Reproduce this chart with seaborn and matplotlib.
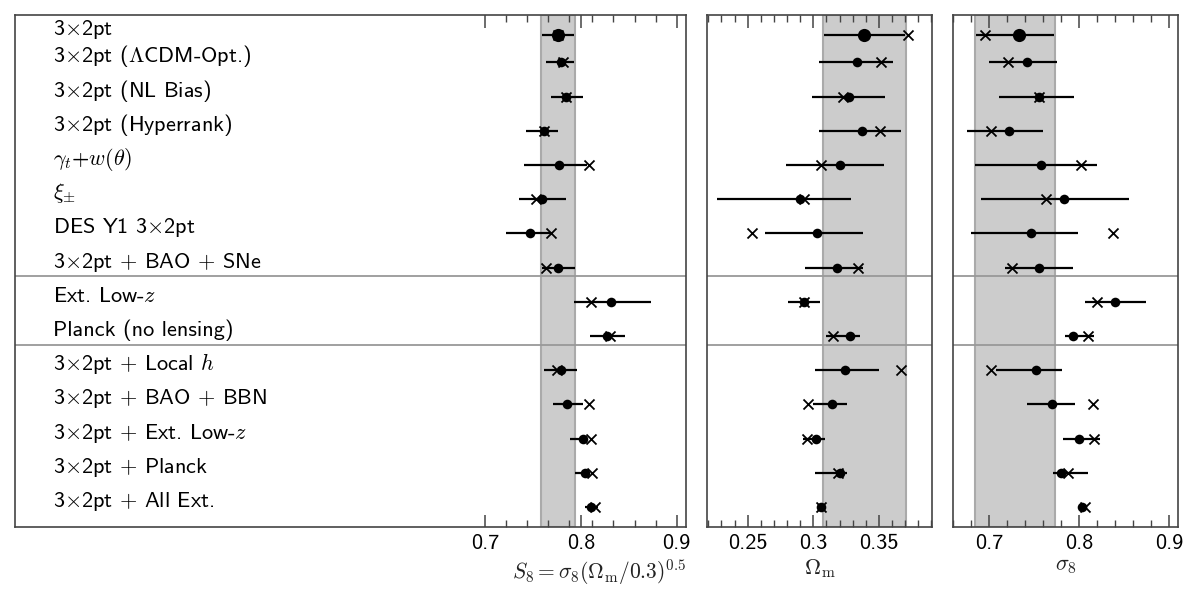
import numpy as np
import pandas as pd
import matplotlib
matplotlib.use("Agg")
import matplotlib.pyplot as plt
import seaborn as sns
from matplotlib.ticker import MultipleLocator, FixedLocator

# ---------------- data ----------------
labels = [
    r"3$\times$2pt",
    r"3$\times$2pt ($\Lambda$CDM-Opt.)",
    r"3$\times$2pt (NL Bias)",
    r"3$\times$2pt (Hyperrank)",
    r"$\gamma_t$+$w(\theta)$",
    r"$\xi_{\pm}$",
    r"DES Y1 3$\times$2pt",
    r"3$\times$2pt $+$ BAO $+$ SNe",
    r"Ext. Low-$z$",
    r"Planck (no lensing)",
    r"3$\times$2pt $+$ Local $h$",
    r"3$\times$2pt $+$ BAO $+$ BBN",
    r"3$\times$2pt $+$ Ext. Low-$z$",
    r"3$\times$2pt $+$ Planck",
    r"3$\times$2pt $+$ All Ext.",
]

s8_mean = [0.776, 0.779, 0.784, 0.762, 0.777, 0.759, 0.747, 0.776, 0.831, 0.827, 0.779, 0.786, 0.802, 0.804, 0.811]
s8_lo   = [0.759, 0.764, 0.769, 0.743, 0.741, 0.736, 0.722, 0.759, 0.793, 0.810, 0.762, 0.771, 0.789, 0.794, 0.804]
s8_hi   = [0.793, 0.793, 0.802, 0.776, 0.806, 0.784, 0.769, 0.794, 0.873, 0.846, 0.796, 0.802, 0.806, 0.809, 0.818]
s8_alt  = [0.776, 0.781, 0.784, 0.762, 0.809, 0.753, 0.769, 0.764, 0.811, 0.830, 0.775, 0.808, 0.811, 0.812, 0.815]

om_mean = [0.339, 0.333, 0.327, 0.337, 0.320, 0.290, 0.303, 0.318, 0.293, 0.328, 0.324, 0.314, 0.302, 0.320, 0.306]
om_lo   = [0.308, 0.304, 0.299, 0.304, 0.279, 0.227, 0.263, 0.294, 0.281, 0.310, 0.301, 0.300, 0.292, 0.301, 0.303]
om_hi   = [0.370, 0.361, 0.355, 0.367, 0.354, 0.329, 0.338, 0.338, 0.305, 0.336, 0.350, 0.326, 0.309, 0.326, 0.310]
om_alt  = [0.3725, 0.352, 0.323, 0.351, 0.306, 0.293, 0.253, 0.334, 0.293, 0.315, 0.367, 0.296, 0.295, 0.319, 0.306]

sig8_mean = [0.733, 0.742, 0.755, 0.722, 0.758, 0.783, 0.747, 0.756, 0.840, 0.793, 0.752, 0.770, 0.800, 0.780, 0.803]
sig8_lo   = [0.685, 0.700, 0.711, 0.675, 0.684, 0.691, 0.680, 0.718, 0.807, 0.784, 0.708, 0.742, 0.782, 0.771, 0.799]
sig8_hi   = [0.772, 0.776, 0.794, 0.760, 0.820, 0.856, 0.799, 0.793, 0.874, 0.817, 0.781, 0.796, 0.823, 0.810, 0.809]
sig8_alt  = [0.696, 0.721, 0.755, 0.702, 0.802, 0.763, 0.838, 0.726, 0.820, 0.810, 0.702, 0.815, 0.817, 0.788, 0.807]

bands = {"s8": (0.7583, 0.7938), "om": (0.3076, 0.3704), "sig8": (0.684, 0.7732)}

# ---------------- style ----------------
sns.set_theme(style="ticks")
plt.rcParams["font.family"] = ["cmss10", "DejaVu Sans"]
plt.rcParams["mathtext.fontset"] = "cm"
plt.rcParams["axes.unicode_minus"] = False
plt.rcParams["axes.formatter.use_mathtext"] = True

ypos = np.arange(len(labels), dtype=float)
ypos[0] = 0.2
seps = [7.25, 9.25]

df = pd.DataFrame({
    "label": labels, "y": ypos,
    "s8": s8_mean, "s8_lo": s8_lo, "s8_hi": s8_hi, "s8_alt": s8_alt,
    "om": om_mean, "om_lo": om_lo, "om_hi": om_hi, "om_alt": om_alt,
    "sig8": sig8_mean, "sig8_lo": sig8_lo, "sig8_hi": sig8_hi, "sig8_alt": sig8_alt,
})

fig = plt.figure(figsize=(12, 6), dpi=100)
bottom, height = 73 / 600, 512 / 600
ax0 = fig.add_axes([15 / 1200, bottom, 671 / 1200, height])
ax1 = fig.add_axes([707 / 1200, bottom, 225 / 1200, height])
ax2 = fig.add_axes([953 / 1200, bottom, 225 / 1200, height])

spine_col = "#444444"
panels = [
    (ax0, "s8", (0.2097, 0.9097), r"$S_8 = \sigma_8(\Omega_{\rm m}/0.3)^{0.5}$"),
    (ax1, "om", (0.219, 0.3905), r"$\Omega_{\rm m}$"),
    (ax2, "sig8", (0.66, 0.91), r"$\sigma_8$"),
]

for ax, key, xl, xlabel in panels:
    lo_b, hi_b = bands[key]
    ax.axvspan(lo_b, hi_b, facecolor="#cccccc", edgecolor="#aaaaaa", lw=1.5, zorder=0)
    for s in seps:
        ax.axhline(s, color="#999999", lw=1.3, zorder=1)
    ax.hlines(df["y"], df[key + "_lo"], df[key + "_hi"], color="black", lw=1.6, zorder=2)
    sns.scatterplot(data=df.iloc[1:], x=key, y="y", marker="o", s=48, color="black",
                    edgecolor="black", linewidth=0, ax=ax, zorder=3, legend=False)
    sns.scatterplot(data=df.iloc[:1], x=key, y="y", marker="o", s=90, color="black",
                    edgecolor="black", linewidth=0, ax=ax, zorder=3, legend=False)
    sns.scatterplot(data=df, x=key + "_alt", y="y", marker="x", s=52, color="black",
                    linewidth=1.3, ax=ax, zorder=4, legend=False)
    ax.set_xlim(*xl)
    ax.set_ylim(14.585, -0.383)
    ax.set_yticks([])
    ax.set_ylabel("")
    ax.set_xlabel(xlabel, fontsize=16, color="#222222", labelpad=3)
    for sp in ax.spines.values():
        sp.set_visible(True)
        sp.set_color(spine_col)
        sp.set_linewidth(1.2)
    ax.tick_params(axis="x", which="both", direction="in", top=True, bottom=True,
                   colors=spine_col, labelcolor="black", labelsize=16, pad=5)
    ax.tick_params(axis="x", which="major", length=9, width=1.1)
    ax.tick_params(axis="x", which="minor", length=5, width=1.0)

ax0.set_xticks([0.7, 0.8, 0.9], labels=["0.7", "0.8", "0.9"])
ax0.xaxis.set_minor_locator(FixedLocator([0.722, 0.744, 0.766, 0.788, 0.812, 0.834, 0.856, 0.878]))
ax0.set_xlabel(ax0.get_xlabel(), loc="right", fontsize=15.5, labelpad=3)
ax1.set_xticks([0.25, 0.3, 0.35], labels=["0.25", "0.3", "0.35"])
ax1.xaxis.set_minor_locator(MultipleLocator(0.01))
ax2.set_xticks([0.7, 0.8, 0.9], labels=["0.7", "0.8", "0.9"])
ax2.xaxis.set_minor_locator(MultipleLocator(0.02))

tr = ax0.get_yaxis_transform()
for lab, y in zip(df["label"], df["y"]):
    ax0.text(38 / 671, y, lab, transform=tr, va="baseline", ha="left", fontsize=16, color="black")

fig.savefig("out.png", dpi=100)
